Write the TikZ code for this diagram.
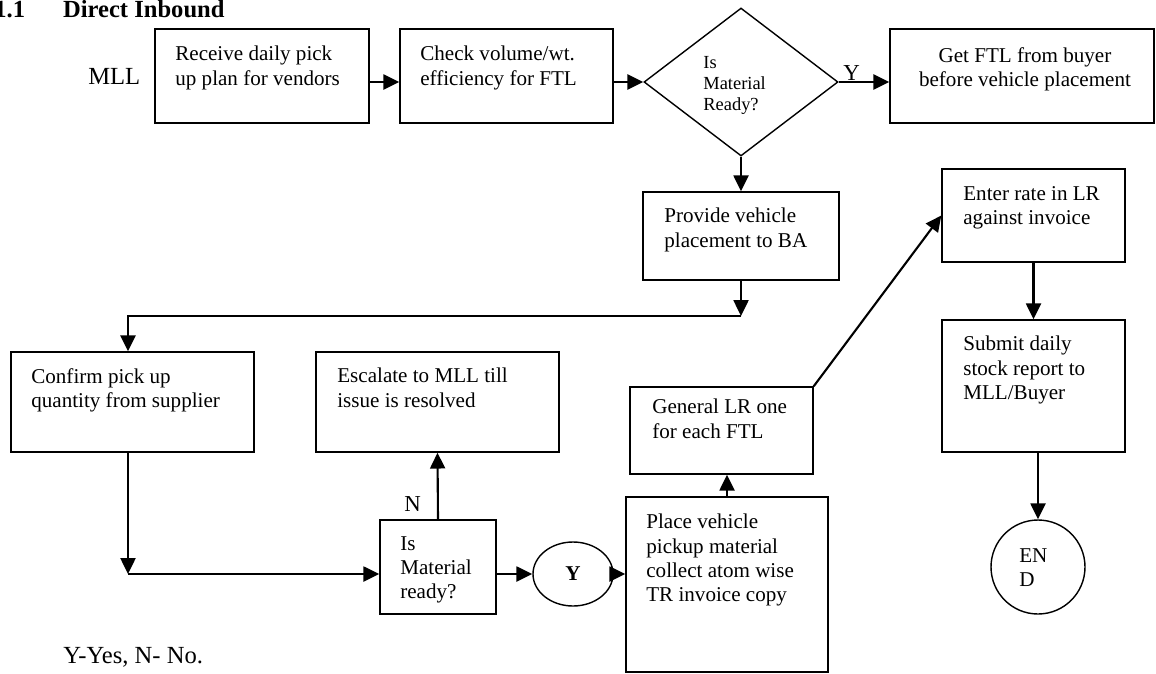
\documentclass[tikz,border=0pt]{standalone}
\usepackage{fontspec}
\setmainfont{Liberation Serif}
\usetikzlibrary{arrows.meta,shapes.geometric,fit,positioning}
\newlength{\pxu}
\setlength{\pxu}{0.02cm}

\begin{document}
\begin{tikzpicture}[x=0.02cm,y=-0.02cm,
	box/.style={draw,line width=0.8pt,inner sep=0pt},
	txt/.style={anchor=north west,inner sep=0pt,align=left,font=\fontsize{12}{13.8}\selectfont},
	lbl/.style={anchor=base west,inner sep=0pt,font=\fontsize{13}{15}\selectfont},
	arr/.style={line width=1.2pt,-{Triangle[length=9pt,width=8.5pt]}}]
		\useasboundingbox (0,0) rectangle (1156,673);
		% heading
		\node[anchor=base west,inner sep=0pt,font=\fontsize{14}{16}\selectfont\bfseries] (title) at (-6,17) {1.1\hspace{21.6pt}Direct Inbound};
		\node[lbl,font=\fontsize{14}{16}\selectfont] (mll) at (88,84) {MLL};
		
		% top row
		\node[box,fit={(155,29) (369,123)}] (recv) {};
		\node[txt] (recvtxt) at (175,46) {Receive daily pick\\up plan for vendors};
		\node[box,fit={(400,29) (613,123)}] (check) {};
		\node[txt] (checktxt) at (420,46) {Check volume/wt.\\efficiency for FTL};
		\node[box,diamond,minimum width=194\pxu,minimum height=148\pxu] (ready1) at (741,82) {};
		\node[txt,font=\fontsize{10.5}{11.9}\selectfont] (ready1txt) at (703,56) {Is\\Material\\Ready?};
		\node[box,fit={(890,29) (1154,123)}] (ftl) {};
		\node[txt,anchor=north,align=center] (ftltxt) at (1025,47) {Get FTL from buyer\\before vehicle placement};
		\node[lbl] (yes1) at (843,80) {Y};
		
		\draw[arr] (recv.east |- ready1.west) -- (check.west |- ready1.west);
		\draw[arr] (check.east |- ready1.west) -- (ready1.west);
		\draw[arr] (ready1.east) -- (ftl.west |- ready1.east);
		
		% vehicle placement
		\node[box,fit={(643,192) (839,280)}] (provide) {};
		\node[txt] (providetxt) at (664,208) {Provide vehicle\\placement to BA};
		\draw[arr] (ready1.south) -- (provide.north);
		\coordinate (jn1) at (741,316);
		\coordinate (jn2) at (128,316);
		\draw[arr] (provide.south) -- (jn1);
		
		% supplier side
		\node[box,fit={(11,352) (254,452)}] (confirm) {};
		\node[txt] (confirmtxt) at (31,368) {Confirm pick up\\quantity from supplier};
		\node[box,fit={(316,352) (559,452)}] (escalate) {};
		\node[txt] (escalatetxt) at (337,368) {Escalate to MLL till\\issue is resolved};
		\draw[arr] (jn1) -- (jn2) -- (confirm.north -| jn2);
		
		\node[box,fit={(380,520) (496,614)}] (ready2) {};
		\node[txt] (ready2txt) at (400,536) {Is\\Material\\ready?};
		\coordinate (jn3) at (128,574);
		\draw[arr] (confirm.south -| jn3) -- (jn3);
		\draw[arr] (jn3) -- (ready2.west |- jn3);
		\draw[arr] (ready2.north) -- (escalate.south);
		\node[lbl] (no2) at (404,511) {N};
		
		\node[box,ellipse,minimum width=80\pxu,minimum height=64\pxu,font=\fontsize{12}{14}\selectfont\bfseries] (yes2) at (573,574) {Y};
		\draw[arr] (ready2.east |- yes2) -- (yes2.west);
		
		% LR generation
		\node[box,fit={(626,497) (828,672)}] (place) {};
		\node[txt] (placetxt) at (646,514) {Place vehicle\\pickup material\\collect atom wise\\TR invoice copy};
		\draw[arr] (yes2.east) -- (place.west |- yes2);
		\node[box,fit={(630,387) (813,474)}] (general) {};
		\node[txt] (generaltxt) at (652,399) {General LR one\\for each FTL};
		\draw[arr] (place.north) -- (place.north |- general.south);
		
		\node[box,fit={(942,169) (1125,262)}] (enter) {};
		\node[txt] (entertxt) at (963,186) {Enter rate in LR\\against invoice};
		\draw[arr] (general.north east) -- (enter.west);
		\node[box,fit={(942,320) (1125,452)}] (submit) {};
		\node[txt] (submittxt) at (963,336) {Submit daily\\stock report to\\MLL/Buyer};
		\draw[arr] (enter.south) -- (submit.north);
		
		% end
		\node[box,circle,minimum size=94\pxu] (finish) at (1038,567) {};
		\node[txt] (finishtxt) at (1019,548) {EN\\D};
		\draw[arr] (submit.south -| finish) -- (finish.north);
		
		\node[lbl,font=\fontsize{14}{16}\selectfont] (legend) at (63,663) {Y-Yes, N- No.};
\end{tikzpicture}
\end{document}
